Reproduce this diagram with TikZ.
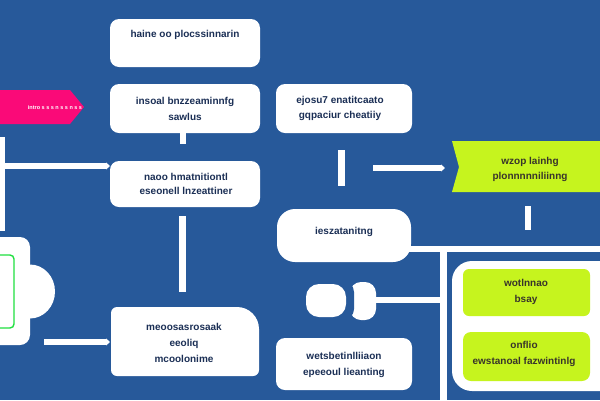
\documentclass[tikz,border=0pt]{standalone}
\usepackage{fontspec}
\setmainfont{Liberation Sans}
\usetikzlibrary{arrows.meta,shapes.geometric,calc}
\definecolor{bgblue}{HTML}{27599A}
\definecolor{inkblue}{HTML}{1B2F55}
\definecolor{limefill}{HTML}{C6F41E}
\definecolor{hotpink}{HTML}{FA0A78}
\definecolor{leafgreen}{HTML}{1FE040}
\tikzset{
  card/.style={fill=white,draw=none,rounded corners=9pt,inner sep=0pt},
  label/.style={font=\fontsize{10}{16}\selectfont\bfseries,text=inkblue,align=center,inner sep=0pt},
  limelabel/.style={font=\fontsize{10}{16}\selectfont\bfseries,text=black!80!olive,align=center,inner sep=0pt},
  wire/.style={draw=white,line width=6pt},
  arrowwire/.style={draw=white,line width=5.5pt,-{Triangle[length=4pt,width=7pt,fill=white]}}
}
\begin{document}
\begin{tikzpicture}[x=1pt,y=-1pt]
\useasboundingbox (0,0) rectangle (600,400);
\fill[bgblue] (0,0) rectangle (600,400);
% cards
\fill[card] (110,19) rectangle (260,67);
\node[label] (a) at (185,35) {haine oo plocssinnarin};
\fill[card] (110,84) rectangle (260,133);
\node[label] (b) at (185,109) {insoal bnzzeaminnfg\\[0pt]sawlus};
\fill[card] (110,161) rectangle (260,207);
\node[label] (c) at (186,184) {naoo hmatnitiontl\\[-2pt]eseonell lnzeattiner};
\fill[card,rounded corners=6pt] (111,307) -- (111,376) -- (259,376) [rounded corners=22pt] -- (259,307) [rounded corners=6pt] -- cycle;
\node[label,align=center] (d) at (184,343) {meoosasrosaak\\[0pt]eeoliq\\[0pt]mcoolonime};
\fill[card] (276,84) rectangle (412,133);
\node[label] (e) at (340,108) {ejosu7 enatitcaato\\[-1pt]gqpaciur cheatiiy};
\fill[card,rounded corners=18pt] (277,209) rectangle (411,262);
\node[label] (f) at (344,232) {ieszatanitng};
\fill[card] (276,338) rectangle (412,390);
\node[label] (g) at (344,365) {wetsbetinlliiaon\\[0pt]epeeoul lieanting};
% pink tag
\fill[hotpink] (0,90) -- (70,90) -- (84,107) -- (70,124) -- (0,124) -- cycle;
\node[font=\fontsize{5.5}{6}\selectfont\bfseries,text=white,inner sep=0pt] (p) at (55,108) {intro s s s n s s n s s};
% lime flag
\fill[limefill] (452,141) -- (600,141) -- (600,192) -- (452,192) -- (459,167) -- cycle;
\node[limelabel] (h) at (530,169) {wzop lainhg\\[-1pt]plonnnnniliinng};
% right panel
\fill[white,rounded corners=20pt] (452,261) rectangle (640,391);
\fill[limefill,rounded corners=6pt] (463,269) rectangle (590,316);
\node[limelabel] (i) at (526,292) {wotlnnao\\[0pt]bsay};
\fill[limefill,rounded corners=8pt] (463,332) rectangle (590,381);
\node[limelabel] (j) at (524,354) {onflio\\[0pt]ewstanoal fazwintinlg};
% cloud
\fill[white,rounded corners=10pt] (-20,237) -- (30,237) -- (30,345) -- (-20,345) -- cycle;
\fill[white] (30,291.5) ellipse (25 and 27);
\draw[leafgreen,line width=1.4pt,rounded corners=4pt] (-10,255) rectangle (14,328);
% capsule
\fill[white,rounded corners=11pt] (350,282) rectangle (376,320);
\fill[bgblue,rounded corners=11pt] (304,281) rectangle (354,320);
\fill[white,rounded corners=13pt] (306,284) rectangle (346,317);
\coordinate (cap) at (376,300);
% connectors
\coordinate (v1) at (2.5,137); \coordinate (v2) at (2.5,231);
\draw[wire,line width=5pt] (v1) -- (v2);
\coordinate (h1) at (0,166);
\draw[arrowwire] (h1) -- (110,166);
\coordinate (bs) at (183,144);
\draw[wire] (183,133) -- (bs);
\coordinate (c1) at (182,216); \coordinate (c2) at (182,292);
\draw[wire,line width=7pt] (c1) -- (c2);
\coordinate (d0) at (44,342);
\draw[arrowwire] (d0) -- (110,342);
\coordinate (e1) at (341,150); \coordinate (e2) at (341,186);
\draw[wire,line width=7pt] (e1) -- (e2);
\coordinate (f0) at (373,168);
\draw[arrowwire] (f0) -- (445,168);
\coordinate (h2) at (528,206); \coordinate (h3) at (528,230);
\draw[wire] (h2) -- (h3);
\coordinate (r1) at (600,249);
\draw[wire] (408,249) -- (r1);
\coordinate (b1) at (443,249); \coordinate (b2) at (443,400);
\draw[wire,line width=7pt] (b1) -- (b2);
\draw[wire] (cap) -- (b1 |- cap);
\end{tikzpicture}
\end{document}
